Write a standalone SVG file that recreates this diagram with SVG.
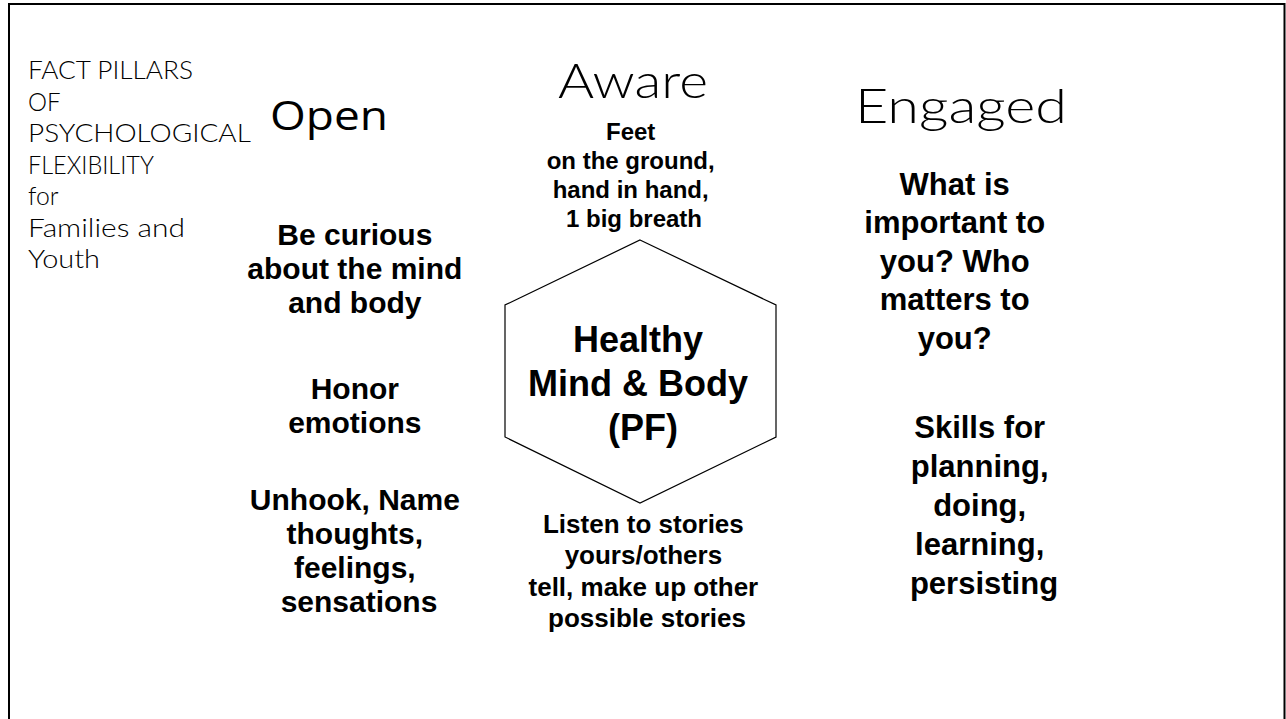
<svg xmlns="http://www.w3.org/2000/svg" width="1286" height="719" viewBox="0 0 1286 719">
  <style>
    .frame { fill: none; stroke: #000; stroke-width: 2; }
    .hex { fill: #fff; stroke: #000; stroke-width: 1.2; }
    .cg { font-family: Lato, "DejaVu Sans", sans-serif; font-weight: 300; fill: #000; }
    .cal { font-family: "Open Sans", "Liberation Sans", sans-serif; fill: #000; }
    .b { font-family: "Liberation Sans", Arial, sans-serif; font-weight: bold; fill: #000; text-anchor: middle; }
  </style>
  <rect width="1286" height="719" fill="#fff"/>
  <path class="frame" d="M9,719 V4 H1284.5 V719"/>

  <g id="title">
    <text class="cg" font-size="25" x="28">
      <tspan x="28" y="79" textLength="165" lengthAdjust="spacingAndGlyphs">FACT PILLARS</tspan>
      <tspan x="28" y="110.5" textLength="32" lengthAdjust="spacingAndGlyphs">OF</tspan>
      <tspan x="28" y="142" textLength="222" lengthAdjust="spacingAndGlyphs">PSYCHOLOGICAL</tspan>
      <tspan x="28" y="173.5" textLength="125" lengthAdjust="spacingAndGlyphs">FLEXIBILITY</tspan>
      <tspan x="28" y="205" textLength="30" lengthAdjust="spacingAndGlyphs">for</tspan>
      <tspan x="28" y="236.5" textLength="157" lengthAdjust="spacingAndGlyphs">Families and</tspan>
      <tspan x="28" y="268" textLength="72" lengthAdjust="spacingAndGlyphs">Youth</tspan>
    </text>
  </g>

  <g id="open">
    <text class="cal" font-size="40" x="270" y="130" textLength="118" lengthAdjust="spacingAndGlyphs">Open</text>
    <text class="b" font-size="30">
      <tspan x="359" y="245">Be curious</tspan>
      <tspan x="359" y="279">about the mind</tspan>
      <tspan x="359" y="313">and body</tspan>
      <tspan x="359" y="399">Honor</tspan>
      <tspan x="359" y="433">emotions</tspan>
      <tspan x="359" y="510">Unhook, Name</tspan>
      <tspan x="359" y="544">thoughts,</tspan>
      <tspan x="359" y="578">feelings,</tspan>
      <tspan x="359" y="612">sensations</tspan>
    </text>
  </g>

  <g id="aware">
    <text class="cg" font-size="48" x="558" y="98" textLength="150" lengthAdjust="spacingAndGlyphs">Aware</text>
    <text class="b" font-size="24">
      <tspan x="634" y="140">Feet</tspan>
      <tspan x="634" y="169">on the ground,</tspan>
      <tspan x="634" y="198">hand in hand,</tspan>
      <tspan x="634" y="227">1 big breath</tspan>
    </text>
  </g>

  <g id="center">
    <polygon class="hex" points="640,240 776,305 776,437 640,503 505,437 505,305"/>
    <text class="b" font-size="36">
      <tspan x="643" y="352">Healthy</tspan>
      <tspan x="643" y="396">Mind &amp; Body</tspan>
      <tspan x="643" y="440">(PF)</tspan>
    </text>
  </g>

  <g id="stories">
    <text class="b" font-size="26">
      <tspan x="647" y="533">Listen to stories</tspan>
      <tspan x="647" y="564">yours/others</tspan>
      <tspan x="647" y="596">tell, make up other</tspan>
      <tspan x="647" y="627">possible stories</tspan>
    </text>
  </g>

  <g id="engaged">
    <text class="cg" font-size="48" x="855" y="123" textLength="212" lengthAdjust="spacingAndGlyphs">Engaged</text>
    <text class="b" font-size="31">
      <tspan x="959" y="195">What is</tspan>
      <tspan x="959" y="233">important to</tspan>
      <tspan x="959" y="272">you? Who</tspan>
      <tspan x="959" y="310">matters to</tspan>
      <tspan x="959" y="349">you?</tspan>
      <tspan x="984" y="438">Skills for</tspan>
      <tspan x="984" y="477">planning,</tspan>
      <tspan x="984" y="516">doing,</tspan>
      <tspan x="984" y="555">learning,</tspan>
      <tspan x="984" y="594">persisting</tspan>
    </text>
  </g>
</svg>
